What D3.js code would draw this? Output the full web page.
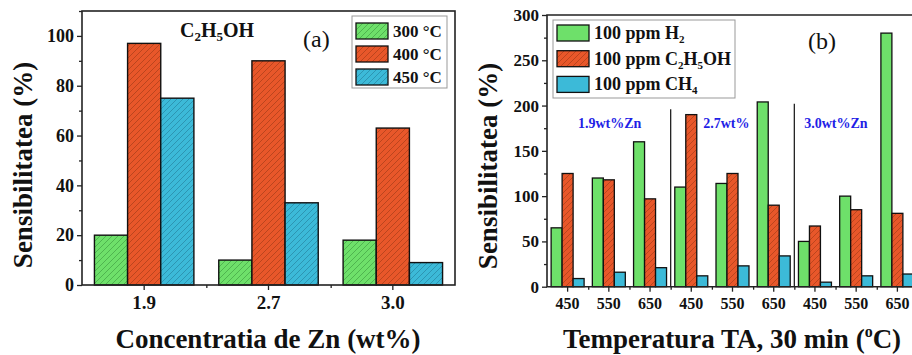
<!DOCTYPE html>
<html>
<head>
<meta charset="utf-8">
<script src="https://cdn.jsdelivr.net/npm/d3@7"></script>
<style>
  body { margin: 0; background: #fff; }
  svg { display: block; font-family: "Liberation Serif", "Times New Roman", serif; }
</style>
</head>
<body>
<div id="chart"></div>
<script>
// ---- data, panel (a)
var zincA = ["1.9", "2.7", "3.0"];
var tempsA = ["300 °C", "400 °C", "450 °C"];
var sens300 = [20, 10, 18];
var sens400 = [97, 90, 63];
var sens450 = [75, 33, 9];
var yTicksA = [0, 20, 40, 60, 80, 100];

// ---- data, panel (b)
var annealTemps = ["450", "550", "650", "450", "550", "650", "450", "550", "650"];
var gasesB = ["100 ppm H2", "100 ppm C2H5OH", "100 ppm CH4"];
var sensH2 = [65, 120, 160, 110, 114, 204, 50, 100, 280];
var sensEtOH = [125, 118, 97, 190, 125, 90, 67, 85, 81];
var sensCH4 = [9, 16, 21, 12, 23, 34, 5, 12, 14];
var yTicksB = [0, 50, 100, 150, 200, 250, 300];
var zincGroups = ["1.9wt%Zn", "2.7wt%", "3.0wt%Zn"];
var separatorTops = [196, 202];

// layout: where each group label starts, in band units
var groupLabelStart = [0.75, 3.79, 6.24];

var fills = ["#6ee06a", "#e8572a", "#3cbad8"];
var hatch = ["#48a848", "#b0401a", "#2a8ca8"];

var svg = d3.select("#chart").append("svg")
    .attr("width", 912)
    .attr("height", 355);

// hatch patterns
var defs = svg.append("defs");
fills.forEach(function(c, i) {
    var p = defs.append("pattern")
        .attr("id", "hatch" + i)
        .attr("patternUnits", "userSpaceOnUse")
        .attr("width", 6)
        .attr("height", 6);
    p.append("rect").attr("width", 6).attr("height", 6).attr("fill", c);
    p.append("path")
        .attr("d", "M0,6 L6,0 M-1,1 L1,-1 M5,7 L7,5")
        .attr("stroke", hatch[i])
        .attr("stroke-width", 0.8);
});

// ================= panel (a)
var xA = d3.scaleBand().domain(d3.range(zincA.length)).range([82, 455]);
var xInA = d3.scaleBand().domain(d3.range(3)).range([0, xA.bandwidth() * 0.8]);
var yA = d3.scaleLinear().domain([0, 110]).range([285, 11]);

var gA = svg.append("g").attr("class", "panelA");

var seriesA = [sens300, sens400, sens450];
seriesA.forEach(function(vals, s) {
    gA.selectAll(".barA" + s)
        .data(vals)
        .enter().append("rect")
        .attr("x", function(d, i) { return xA(i) + xA.bandwidth() * 0.1 + xInA(s); })
        .attr("y", function(d) { return yA(d); })
        .attr("width", xInA.bandwidth())
        .attr("height", function(d) { return yA(0) - yA(d); })
        .attr("fill", "url(#hatch" + s + ")")
        .attr("stroke", "#111")
        .attr("stroke-width", 1.4);
});

// frame
gA.append("rect")
    .attr("x", 82).attr("y", yA(110))
    .attr("width", 455 - 82).attr("height", yA(0) - yA(110))
    .attr("fill", "none").attr("stroke", "#222").attr("stroke-width", 1.6);

// y axis
var yAxisA = d3.axisLeft(yA).tickValues(yTicksA).tickSize(5).tickPadding(3);
var yAxA = gA.append("g").attr("transform", "translate(82,0)").call(yAxisA);
gA.append("g").attr("transform", "translate(82,0)")
    .call(d3.axisLeft(yA).tickValues([10, 30, 50, 70, 90, 110]).tickSize(3).tickFormat(""));

// x axis
var xAxisA = d3.axisBottom(xA).tickSize(5).tickPadding(6)
    .tickFormat(function(i) { return zincA[i]; });
var xAxA = gA.append("g").attr("transform", "translate(0,285)").call(xAxisA);
gA.append("g").attr("transform", "translate(0,285)")
    .call(d3.axisBottom(d3.scaleLinear().domain([0, 3]).range([82, 455]))
        .tickValues([1, 2]).tickSize(3).tickFormat(""));

svg.selectAll(".panelA .domain").remove();
yAxA.selectAll("text").attr("font-size", 18).attr("font-weight", "bold").attr("fill", "#111")
    .attr("font-family", "Liberation Serif");
xAxA.selectAll("text").attr("font-size", 19).attr("font-weight", "bold").attr("fill", "#111")
    .attr("font-family", "Liberation Serif");
gA.selectAll(".tick line").attr("stroke", "#222").attr("stroke-width", 1.3);

// titles
gA.append("text")
    .attr("transform", "translate(32,165) rotate(-90)")
    .attr("text-anchor", "middle")
    .attr("font-size", 27).attr("font-weight", "bold").attr("fill", "#111")
    .text("Sensibilitatea (%)");
gA.append("text")
    .attr("x", 268).attr("y", 348)
    .attr("text-anchor", "middle")
    .attr("font-size", 27).attr("font-weight", "bold").attr("fill", "#111")
    .text("Concentratia de Zn (wt%)");

var chemA = gA.append("text")
    .attr("x", 180).attr("y", 37)
    .attr("font-size", 20).attr("font-weight", "bold").attr("fill", "#111");
chemA.append("tspan").text("C");
chemA.append("tspan").attr("font-size", 13).attr("dy", 4).text("2");
chemA.append("tspan").attr("dy", -4).text("H");
chemA.append("tspan").attr("font-size", 13).attr("dy", 4).text("5");
chemA.append("tspan").attr("dy", -4).text("OH");

gA.append("text")
    .attr("x", 303).attr("y", 47)
    .attr("font-size", 24).attr("fill", "#111")
    .text("(a)");

// legend (a)
var legA = gA.append("g").attr("transform", "translate(352,16)");
legA.append("rect").attr("width", 95).attr("height", 72)
    .attr("fill", "#fff").attr("stroke", "#999").attr("stroke-width", 1);
tempsA.forEach(function(t, i) {
    legA.append("rect")
        .attr("x", 4).attr("y", 7 + i * 23)
        .attr("width", 32).attr("height", 16)
        .attr("fill", "url(#hatch" + i + ")")
        .attr("stroke", "#111").attr("stroke-width", 1.3);
    legA.append("text")
        .attr("x", 41).attr("y", 21 + i * 23)
        .attr("font-size", 17).attr("font-weight", "bold").attr("fill", "#111")
        .text(t);
});

// ================= panel (b)
var xB = d3.scaleBand().domain(d3.range(annealTemps.length)).range([547, 918]);
var xInB = d3.scaleBand().domain(d3.range(3)).range([0, xB.bandwidth() * 0.8]);
var yB = d3.scaleLinear().domain([0, 300]).range([286.7, 15]);
var bandPos = d3.scaleLinear().domain([0, 9]).range([547, 918]);

var gB = svg.append("g").attr("class", "panelB");

var seriesB = [sensH2, sensEtOH, sensCH4];
var fillB = [fills[0], "url(#hatch1)", fills[2]];
seriesB.forEach(function(vals, s) {
    gB.selectAll(".barB" + s)
        .data(vals)
        .enter().append("rect")
        .attr("x", function(d, i) { return xB(i) + xB.bandwidth() * 0.1 + xInB(s); })
        .attr("y", function(d) { return yB(d); })
        .attr("width", xInB.bandwidth())
        .attr("height", function(d) { return yB(0) - yB(d); })
        .attr("fill", fillB[s])
        .attr("stroke", "#111")
        .attr("stroke-width", 1.3);
});

// group separators
gB.selectAll(".sep")
    .data(separatorTops)
    .enter().append("line")
    .attr("x1", function(d, i) { return xB((i + 1) * 3); })
    .attr("x2", function(d, i) { return xB((i + 1) * 3); })
    .attr("y1", yB(0))
    .attr("y2", function(d) { return yB(d); })
    .attr("stroke", "#222").attr("stroke-width", 1.3);

gB.selectAll(".grpLabel")
    .data(zincGroups)
    .enter().append("text")
    .attr("x", function(d, i) { return bandPos(groupLabelStart[i]); })
    .attr("y", 128)
    .attr("font-size", 14).attr("font-weight", "bold").attr("fill", "#1f1fe6")
    .text(function(d) { return d; });

// frame: left, top, bottom
gB.append("path")
    .attr("d", "M918," + yB(300) + " H547 V" + yB(0) + " H918")
    .attr("fill", "none").attr("stroke", "#222").attr("stroke-width", 1.6);

var yAxB = gB.append("g").attr("transform", "translate(547,0)")
    .call(d3.axisLeft(yB).tickValues(yTicksB).tickSize(5).tickPadding(3));
gB.append("g").attr("transform", "translate(547,0)")
    .call(d3.axisLeft(yB).tickValues([25, 75, 125, 175, 225, 275]).tickSize(3).tickFormat(""));

var xAxB = gB.append("g").attr("transform", "translate(0," + yB(0) + ")")
    .call(d3.axisBottom(xB).tickSize(5).tickPadding(6)
        .tickFormat(function(i) { return annealTemps[i]; }));
gB.append("g").attr("transform", "translate(0," + yB(0) + ")")
    .call(d3.axisBottom(bandPos)
        .tickValues([1, 2, 3, 4, 5, 6, 7, 8]).tickSize(3).tickFormat(""));

svg.selectAll(".panelB .domain").remove();
yAxB.selectAll("text").attr("font-size", 17).attr("font-weight", "bold").attr("fill", "#111")
    .attr("font-family", "Liberation Serif");
xAxB.selectAll("text").attr("font-size", 16).attr("font-weight", "bold").attr("fill", "#111")
    .attr("font-family", "Liberation Serif");
gB.selectAll(".tick line").attr("stroke", "#222").attr("stroke-width", 1.3);

gB.append("text")
    .attr("transform", "translate(497,166) rotate(-90)")
    .attr("text-anchor", "middle")
    .attr("font-size", 27).attr("font-weight", "bold").attr("fill", "#111")
    .text("Sensibilitatea (%)");

var xTitleB = gB.append("text")
    .attr("x", 732).attr("y", 348)
    .attr("text-anchor", "middle")
    .attr("font-size", 27).attr("font-weight", "bold").attr("fill", "#111");
xTitleB.append("tspan").text("Temperatura TA, 30 min (");
xTitleB.append("tspan").attr("font-size", 16).attr("dy", -11).text("o");
xTitleB.append("tspan").attr("dy", 11).text("C)");

gB.append("text")
    .attr("x", 808).attr("y", 49)
    .attr("font-size", 24).attr("fill", "#111")
    .text("(b)");

// legend (b)
var legB = gB.append("g").attr("transform", "translate(553,20)");
legB.append("rect").attr("width", 182).attr("height", 78)
    .attr("fill", "#fff").attr("stroke", "#999").attr("stroke-width", 1);
gasesB.forEach(function(name, i) {
    legB.append("rect")
        .attr("x", 4).attr("y", 5 + i * 25.7)
        .attr("width", 32).attr("height", 16)
        .attr("fill", fillB[i])
        .attr("stroke", "#111").attr("stroke-width", 1.3);
    var t = legB.append("text")
        .attr("x", 41).attr("y", 19 + i * 25.7)
        .attr("font-size", 18).attr("font-weight", "bold").attr("fill", "#111");
    // digits after element letters become subscripts
    name.split(/(\d)(?=[A-Z]|$)/).forEach(function(part, k) {
        if (k % 2 === 1) {
            t.append("tspan").attr("font-size", 11).attr("dy", 4).text(part);
        } else if (part.length) {
            t.append("tspan").attr("dy", k > 0 ? -4 : 0).text(part);
        }
    });
});
</script>
</body>
</html>
